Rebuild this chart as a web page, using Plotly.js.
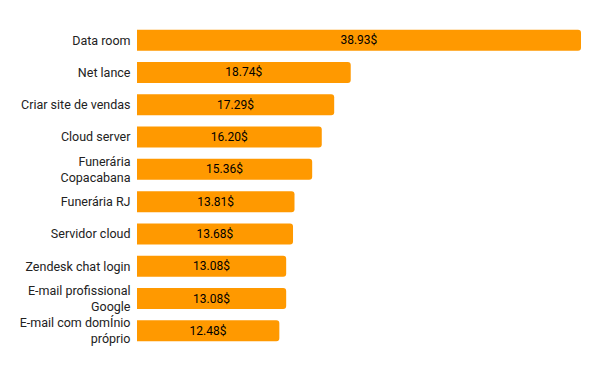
<!DOCTYPE html>
<html><head><meta charset="utf-8">
<script src="https://cdn.plot.ly/plotly-3.0.1.min.js"></script>
<style>html,body{margin:0;padding:0;background:#fff;}</style>
</head><body>
<div id="chart" style="width:600px;height:371px;"></div>
<script>
const categories = ["Data room", "Net lance", "Criar site de vendas", "Cloud server", "Funerária<br>Copacabana", "Funerária RJ", "Servidor cloud", "Zendesk chat login", "E-mail profissional<br>Google", "E-mail com domÍnio<br>próprio"];
const values = [38.93, 18.74, 17.29, 16.20, 15.36, 13.81, 13.68, 13.08, 13.08, 12.48];
const labels = values.map(v => v.toFixed(2) + "$");

Plotly.newPlot("chart", [{
  type: "bar",
  orientation: "h",
  y: categories,
  x: values,
  text: labels,
  textposition: "inside",
  insidetextanchor: "middle",
  textangle: 0,
  textfont: {family: "Roboto, sans-serif", size: 12, color: "#000"},
  marker: {color: "#FF9900", cornerradius: 3},
  width: 0.65,
  hoverinfo: "none"
}], {
  width: 600, height: 371,
  margin: {l: 137, r: 19, t: 24, b: 24},
  paper_bgcolor: "#fff", plot_bgcolor: "#fff",
  font: {family: "Roboto, sans-serif", size: 12, color: "#222"},
  xaxis: {range: [0, 38.93], showgrid: false, zeroline: false, showticklabels: false, ticks: ""},
  yaxis: {autorange: "reversed", showgrid: false, zeroline: false, ticks: "outside", ticklen: 3, tickcolor: "rgba(0,0,0,0)", automargin: false, tickfont: {size: 12.5, color: "#222"}},
  showlegend: false
}, {displayModeBar: false, staticPlot: true});
</script>
</body></html>
